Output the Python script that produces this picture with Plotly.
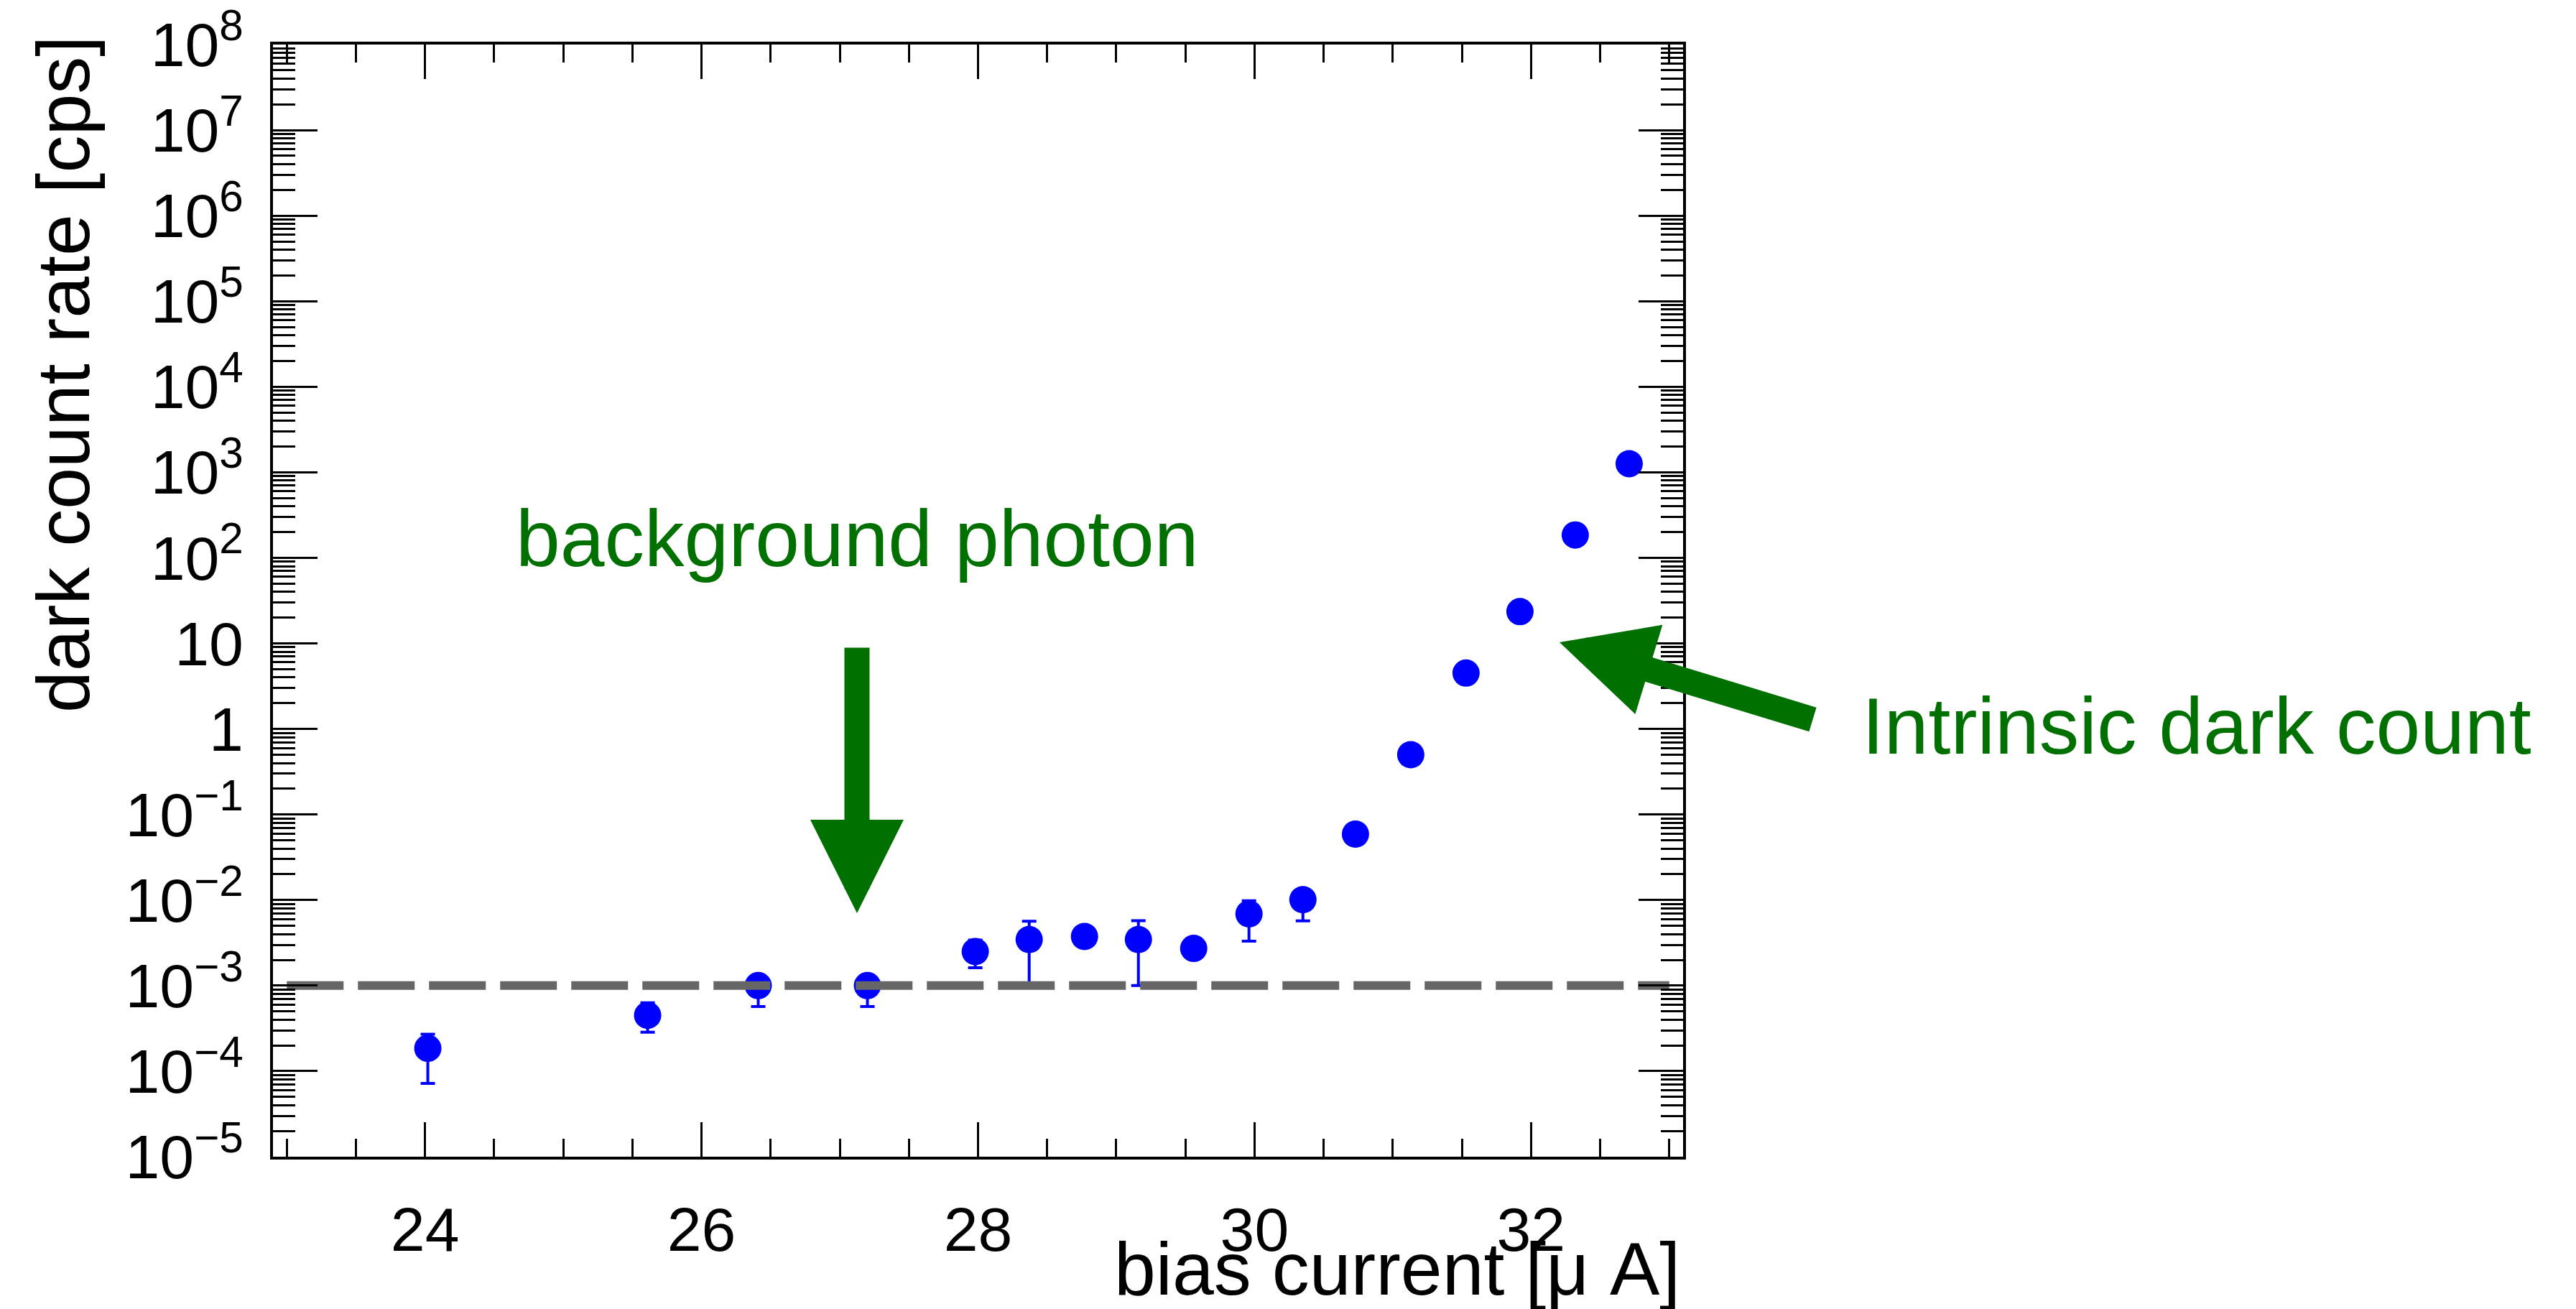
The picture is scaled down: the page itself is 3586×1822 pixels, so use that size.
import math
import plotly.graph_objects as go

# Measured dark count rate versus bias current
bias_current = [24.02, 25.61, 26.41, 27.20, 27.98, 28.37, 28.77, 29.16, 29.56,
                29.96, 30.35, 30.73, 31.13, 31.53, 31.92, 32.32, 32.71]
dark_count_rate = [1.85e-4, 4.5e-4, 1.0e-3, 1.0e-3, 2.5e-3, 3.45e-3, 3.75e-3, 3.45e-3, 2.72e-3,
                   6.9e-3, 1.01e-2, 0.059, 0.50, 4.5, 23.5, 185, 1260]
err_up = [0.85e-4, 1.8e-4, 0.30e-3, 0.30e-3, 0.9e-3, 2.2e-3, 0.6e-3, 2.3e-3, 0.5e-3,
          2.9e-3, 3.0e-3, 0.006, 0.05, 0.4, 2.0, 15, 100]
err_down = [1.13e-4, 1.65e-4, 0.43e-3, 0.43e-3, 0.88e-3, 2.4e-3, 0.6e-3, 2.45e-3, 0.5e-3,
            3.6e-3, 4.4e-3, 0.006, 0.05, 0.4, 2.0, 15, 100]

# Background photon level and the span it is drawn over
background_level = 1e-3
background_span = [23.0, 33.0]

# Axis ranges and tick labels
x_range = [22.9, 33.1]
y_decades = [-5, 8]
y_tick_vals = [1e-5, 1e-4, 1e-3, 1e-2, 1e-1, 1, 10, 1e2, 1e3, 1e4, 1e5, 1e6, 1e7, 1e8]
y_tick_text = ["10<sup>\u22125</sup>", "10<sup>\u22124</sup>", "10<sup>\u22123</sup>",
               "10<sup>\u22122</sup>", "10<sup>\u22121</sup>", "1", "10",
               "10<sup>2</sup>", "10<sup>3</sup>", "10<sup>4</sup>", "10<sup>5</sup>",
               "10<sup>6</sup>", "10<sup>7</sup>", "10<sup>8</sup>"]

# Figure geometry (pixels)
W, H = 3586, 1822
L, R, T, B = 380, 2343, 62, 1610

GREEN = "#007000"
FONT = "Liberation Sans, Arial, Helvetica, sans-serif"


def px_x(p):
    return (p - L) / (R - L)


def px_y(p):
    return (B - p) / (B - T)


def data_x(p):
    return x_range[0] + (p - L) / (R - L) * (x_range[1] - x_range[0])


def log_y(p):
    return y_decades[1] - (p - T) / (B - T) * (y_decades[1] - y_decades[0])


# log-axis sub-divisions 2..9 inside every decade
minor_y = [k * 10.0 ** n for n in range(y_decades[0], y_decades[1]) for k in range(2, 10)]

fig = go.Figure()

fig.add_trace(go.Scatter(
    x=bias_current, y=dark_count_rate, mode="markers",
    marker=dict(color="#0000ff", size=38, symbol="circle", line=dict(width=0)),
    error_y=dict(type="data", symmetric=False, array=err_up, arrayminus=err_down,
                 color="#0000ff", thickness=4, width=10),
    showlegend=False,
))

fig.add_trace(go.Scatter(
    x=background_span, y=[background_level, background_level], mode="lines",
    line=dict(color="#666666", width=12, dash="79px,20px"),
    showlegend=False,
))

axis_common = dict(
    showline=True, linewidth=4, linecolor="black", mirror="ticks",
    ticks="inside", tickwidth=3, tickcolor="black",
    showgrid=False, zeroline=False, automargin=False,
    tickfont=dict(family=FONT, size=86, color="black"),
)

fig.update_xaxes(
    range=x_range, tickmode="linear", tick0=0, dtick=2, ticklen=48,
    ticklabelstandoff=24,
    minor=dict(tick0=0, dtick=0.5, ticks="inside", ticklen=25, tickwidth=3,
               tickcolor="black", showgrid=False),
    **axis_common,
)

fig.update_yaxes(
    type="log", range=y_decades, tickmode="array",
    tickvals=y_tick_vals, ticktext=y_tick_text,
    ticklen=62, ticklabelstandoff=20,
    minor=dict(tickmode="array", tickvals=minor_y, ticks="inside", ticklen=31,
               tickwidth=3, tickcolor="black", showgrid=False),
    **axis_common,
)

annotations = [
    # axis titles
    dict(text="bias current [\u03bc A]", xref="paper", yref="paper",
         x=px_x(2341), y=px_y(1766), xanchor="right", yanchor="middle",
         showarrow=False, font=dict(family=FONT, size=104, color="black")),
    dict(text="dark count rate [cps]", xref="paper", yref="paper",
         x=px_x(88), y=px_y(48), xanchor="center", yanchor="top", textangle=-90,
         showarrow=False, font=dict(family=FONT, size=104, color="black")),
    # labels
    dict(text="background photon", xref="paper", yref="paper",
         x=px_x(1193), y=px_y(750), xanchor="center", yanchor="middle",
         showarrow=False, font=dict(family=FONT, size=111, color=GREEN)),
    dict(text="Intrinsic dark count", xref="paper", yref="paper",
         x=px_x(2590), y=px_y(1011), xanchor="left", yanchor="middle",
         showarrow=False, font=dict(family=FONT, size=111, color=GREEN)),
    # arrows
    dict(text="", xref="x", yref="y", x=data_x(1193), y=log_y(1271),
         ax=0, ay=-371, showarrow=True, arrowhead=2, arrowsize=0.743,
         arrowwidth=35, arrowcolor=GREEN, standoff=0),
    dict(text="", xref="x", yref="y", x=data_x(2171), y=log_y(894),
         ax=354, ay=108, showarrow=True, arrowhead=2, arrowsize=0.743,
         arrowwidth=35, arrowcolor=GREEN, standoff=0),
]

fig.update_layout(
    width=W, height=H,
    margin=dict(l=L, r=W - R, t=T, b=H - B, pad=0),
    paper_bgcolor="white", plot_bgcolor="white",
    annotations=annotations,
    font=dict(family=FONT),
)

fig.write_html("out.html")
